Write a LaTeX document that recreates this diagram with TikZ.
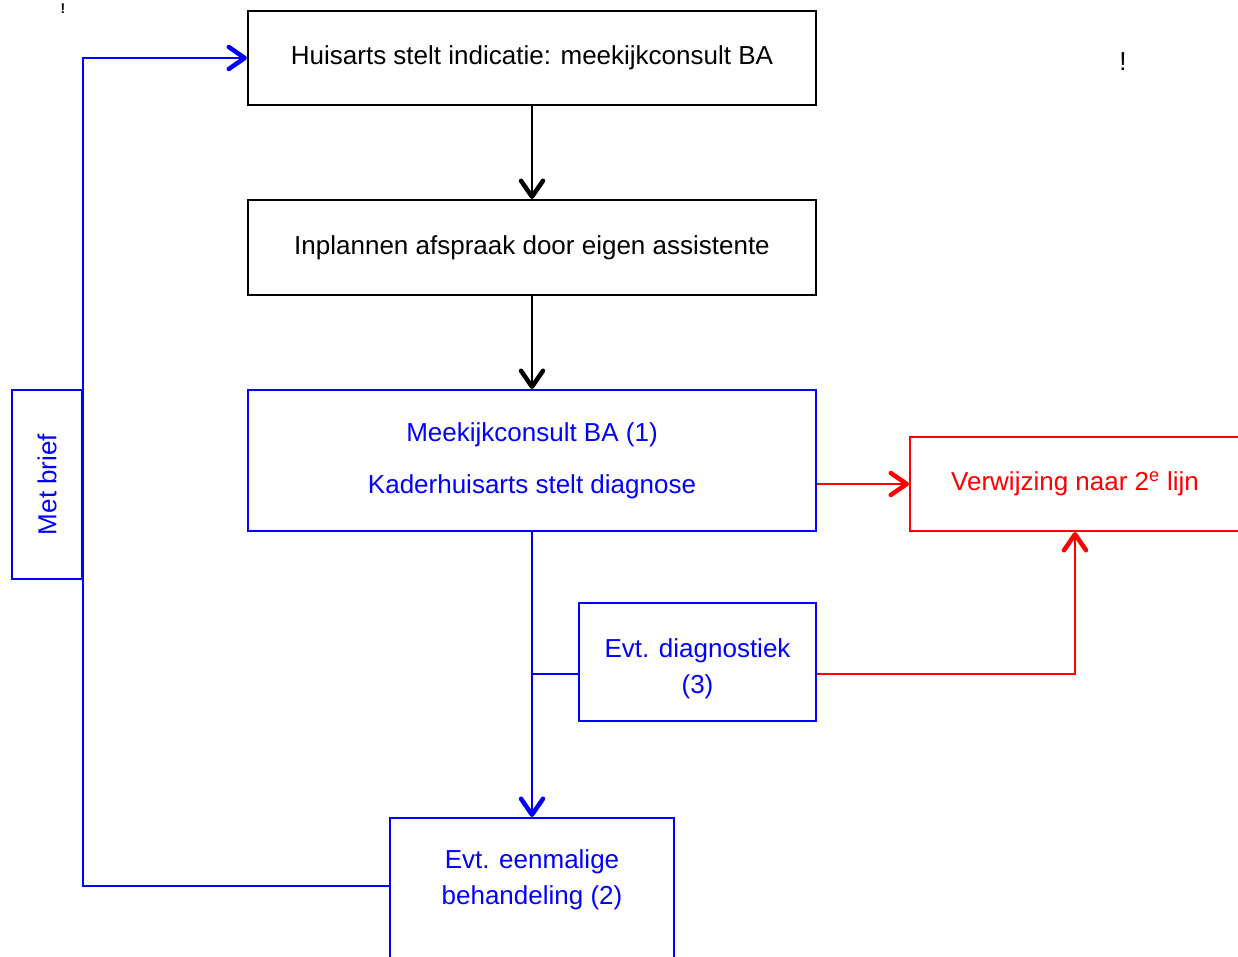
\documentclass[tikz,border=0pt]{standalone}
\usepackage{fontspec}
\setmainfont{Liberation Sans}
\usetikzlibrary{arrows.meta}
\definecolor{blauw}{RGB}{0,0,255}
\definecolor{rood}{RGB}{255,0,0}

\begin{document}
\begin{tikzpicture}[x=1pt, y=-1pt,
    font=\fontsize{26}{36}\selectfont,
    vak/.style={draw, line width=2pt, inner sep=0pt, align=center},
    lijn/.style={line width=2.4pt},
    pijl/.style={lijn, -{Straight Barb[length=16pt, width=22pt, line width=4.5pt, round]}},
  ]
  \useasboundingbox (0,0) rectangle (1238,957);
  % losse uitroeptekens
  \node [font=\fontsize{14}{16}\selectfont\bfseries] (uitroepa) at (63,9) {!};
  \node (uitroepb) at (1123,62) {!};
  % zwarte vakken bovenaan
  \node [vak, minimum width=568pt, minimum height=94pt] (huisarts) at (532,58)
    {Huisarts stelt indicatie: meekijkconsult BA};
  \node [vak, minimum width=568pt, minimum height=95pt] (plannen) at (532,247.5)
    {Inplannen afspraak door eigen assistente};
  % blauwe vakken
  \node [vak, blauw, minimum width=568pt, minimum height=141pt] (consult) at (532,460.5)
    {Meekijkconsult BA (1)\\[16pt]Kaderhuisarts stelt diagnose};
  \node [vak, blauw, rotate=90, minimum width=189pt, minimum height=70pt] (brief) at (47,484.5)
    {Met brief};
  \node [vak, blauw, minimum width=237pt, minimum height=118pt] (diagnostiek) at (697.5,662)
    {\rule{0pt}{33pt}Evt. diagnostiek\\(3)};
  \node [vak, blauw, minimum width=284pt, anchor=north] (eenmalige) at (532,817)
    {\parbox[c][180pt][t]{280pt}{\centering\vspace*{32pt}Evt. eenmalige\\behandeling (2)}};
  % rood vak, loopt rechts buiten beeld
  \node [vak, rood, minimum width=330pt, minimum height=94pt] (verwijzing) at (1075,484)
    {Verwijzing naar 2\textsuperscript{e} lijn};
  % pijlen
  \draw [pijl] (huisarts) -- (plannen);
  \draw [pijl] (plannen) -- (consult);
  \draw [pijl, blauw] (consult) -- (eenmalige);
  \draw [lijn, blauw] ([yshift=-12pt]diagnostiek.west) -- ([yshift=-12pt]diagnostiek.west -| consult.south);
  \draw [pijl, blauw] ([yshift=-69pt]eenmalige.north west) -| (brief.south) |- (huisarts.west);
  \draw [pijl, rood] (consult.east |- verwijzing.west) -- (verwijzing.west);
  \draw [pijl, rood] ([yshift=-12pt]diagnostiek.east) -| (verwijzing.south);
\end{tikzpicture}
\end{document}
